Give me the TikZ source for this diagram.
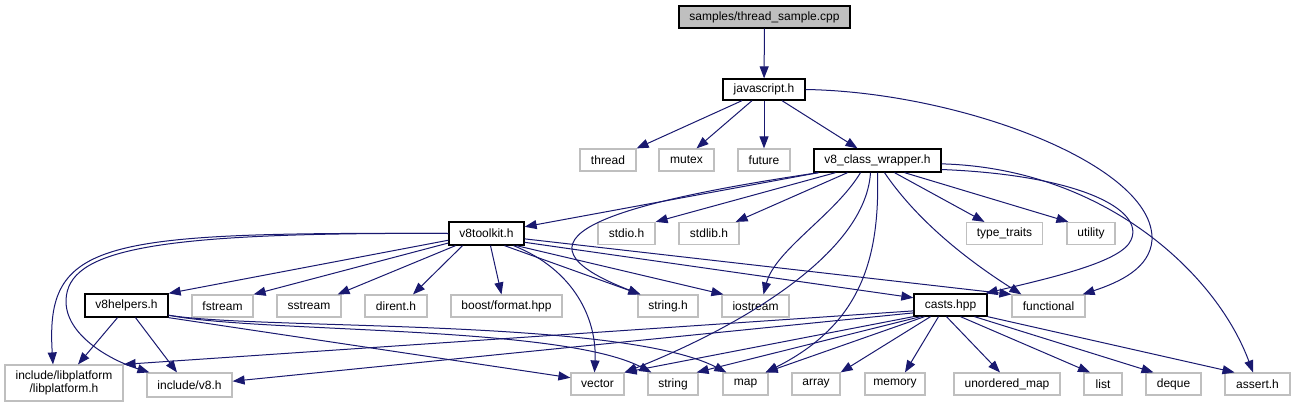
\documentclass[tikz,border=0pt]{standalone}
\usepackage{xcolor}
\usepackage{fontspec}
\setmainfont{Liberation Sans}
\usepackage{tikz}
\usetikzlibrary{arrows.meta}

\definecolor{edgeblue}{HTML}{191970}
\definecolor{extgray}{HTML}{BFBFBF}

\begin{document}
\begin{tikzpicture}[
      x=1pt, y=-1pt, % pixel grid of the include graph
      every node/.style={font=\fontsize{12}{13}\selectfont, inner sep=0pt,
        minimum height=22pt},
      incl/.style={rectangle, draw=black, line width=1.3pt, fill=white},
      ext/.style={rectangle, draw=extgray, line width=1.2pt, fill=white},
      rootfile/.style={incl, fill=extgray},
      dep/.style={->, draw=edgeblue, line width=1pt},
      >={Triangle[length=12pt, width=9pt, fill=edgeblue]},
  ]
      \path[use as bounding box, fill=white] (0,0) rectangle (1295,407);

      % --- NIVEL 0 E 1 ---
      \node[rootfile, minimum width=171pt] (sample) at (764.5,17) {samples/thread\_sample.cpp};
      \node[incl, minimum width=82pt, minimum height=21pt] (javascript) at (764,89.5) {javascript.h};

      % --- NIVEL 2 ---
      \node[ext, minimum width=56pt] (thread) at (608,160) {thread};
      \node[ext, minimum width=55pt] (mutex) at (686.5,160) {mutex};
      \node[ext, minimum width=52pt] (future) at (764,160) {future};
      \node[incl, minimum width=127pt, minimum height=23pt] (classwrapper) at (877.5,160.5) {v8\_class\_wrapper.h};

      % --- NIVEL 3 ---
      \node[incl, minimum width=75pt, minimum height=23pt] (toolkit) at (486.5,233.5) {v8toolkit.h};
      \node[ext, minimum width=57pt] (stdio) at (626.5,233.5) {stdio.h};
      \node[ext, minimum width=60pt] (stdlib) at (709,233.5) {stdlib.h};
      \node[ext, minimum width=76pt] (typetraits) at (1004.5,233.5) {type\_traits};
      \node[ext, minimum width=48pt] (utility) at (1091,233.5) {utility};

      % --- NIVEL 4 ---
      \node[incl, minimum width=83pt, minimum height=23pt] (helpers) at (126.5,305.5) {v8helpers.h};
      \node[ext, minimum width=61pt] (fstream) at (222.5,306) {fstream};
      \node[ext, minimum width=64pt] (sstream) at (309,306) {sstream};
      \node[ext, minimum width=62pt] (dirent) at (396,306) {dirent.h};
      \node[ext, minimum width=111pt] (boostfmt) at (506.5,306) {boost/format.hpp};
      \node[ext, minimum width=60pt] (stringh) at (668,306) {string.h};
      \node[ext, minimum width=67pt] (iostream) at (755.5,306) {iostream};
      \node[incl, minimum width=73pt] (casts) at (950.5,305) {casts.hpp};
      \node[ext, minimum width=73pt] (functional) at (1048.5,306) {functional};

      % --- NIVEL 5 ---
      \node[ext, minimum width=118pt, minimum height=36pt, align=center] (libplatform) at (64,383) {include/libplatform\\/libplatform.h};
      \node[ext, minimum width=85pt, minimum height=24pt] (v8h) at (189.5,385) {include/v8.h};
      \node[ext, minimum width=53pt] (vector) at (597.5,384) {vector};
      \node[ext, minimum width=50pt] (string) at (673,384) {string};
      \node[ext, minimum width=45pt] (map) at (745.5,384) {map};
      \node[ext, minimum width=48pt] (array) at (816,384) {array};
      \node[ext, minimum width=60pt] (memory) at (895,384) {memory};
      \node[ext, minimum width=106pt] (unorderedmap) at (1007,384) {unordered\_map};
      \node[ext, minimum width=38pt] (list) at (1103,384) {list};
      \node[ext, minimum width=55pt] (deque) at (1173.5,384) {deque};
      \node[ext, minimum width=65pt] (assert) at (1257.5,384) {assert.h};

      % --- samples/thread_sample.cpp e javascript.h ---
      \draw[dep] (sample) -- (javascript);
      \draw[dep] ([xshift=-22pt]javascript.south) -- (thread.north east);
      \draw[dep] ([xshift=-12pt]javascript.south) -- ([xshift=10pt]mutex.north);
      \draw[dep] (javascript) -- (future);
      \draw[dep] ([xshift=18pt]javascript.south) -- ([xshift=-20pt]classwrapper.north);
      \draw[dep] (javascript.east) .. controls (960,92) and (1155,165) .. (1152,240)
          .. controls (1150,268) and (1120,282) .. ([xshift=-3pt]functional.north east);

      % --- v8_class_wrapper.h ---
      \draw[dep] ([xshift=-59pt]classwrapper.south) -- (toolkit.10);
      \draw[dep] ([xshift=-59pt]classwrapper.south) .. controls (600,205) and (500,240) .. ([xshift=3pt]stringh.north west);
      \draw[dep] ([xshift=-42pt]classwrapper.south) -- (stdio.north east);
      \draw[dep] ([xshift=-30pt]classwrapper.south) -- ([xshift=-4pt]stdlib.north east);
      \draw[dep] ([xshift=-17pt]classwrapper.south) .. controls (835,215) and (775,250) .. ([xshift=8pt]iostream.north);
      \draw[dep] ([xshift=-7pt]classwrapper.south) .. controls (865,260) and (720,335) .. (vector.north east);
      \draw[dep] (classwrapper.south) .. controls (880,260) and (860,325) .. ([xshift=-3pt]map.north east);
      \draw[dep] ([xshift=7pt]classwrapper.south) .. controls (920,225) and (975,265) .. ([xshift=10pt]functional.north west);
      \draw[dep] ([xshift=17pt]classwrapper.south) -- ([xshift=-20pt]typetraits.north);
      \draw[dep] ([xshift=27pt]classwrapper.south) -- ([xshift=2pt]utility.north west);
      \draw[dep] (classwrapper.-8) .. controls (1080,175) and (1145,210) .. (1131,240)
          .. controls (1122,262) and (1050,278) .. ([xshift=-2pt]casts.north east);
      \draw[dep] (classwrapper.-3) .. controls (1100,168) and (1215,270) .. ([xshift=-4.5pt]assert.north);

      % --- v8toolkit.h ---
      \draw[dep] (toolkit.190) -- (helpers.north east);
      \draw[dep] (toolkit.194) -- (fstream.north east);
      \draw[dep] ([xshift=-31pt]toolkit.south) -- ([xshift=-4pt]sstream.north east);
      \draw[dep] ([xshift=-24pt]toolkit.south) -- ([xshift=17pt]dirent.north);
      \draw[dep] ([xshift=4pt]toolkit.south) -- ([xshift=-5pt]boostfmt.north);
      \draw[dep] ([xshift=18pt]toolkit.south) -- ([xshift=3pt]stringh.north west);
      \draw[dep] ([xshift=30pt]toolkit.south) -- ([xshift=2pt]iostream.north west);
      \draw[dep] ([xshift=27pt]toolkit.south) .. controls (575,270) and (597,320) .. ([xshift=-3pt]vector.north);
      \draw[dep] (toolkit.-13) -- (casts.169);
      \draw[dep] (toolkit.-8) -- (functional.north west);
      \draw[dep] (toolkit.west) .. controls (100,232) and (45,240) .. ([xshift=-11pt]libplatform.north);
      \draw[dep] (toolkit.west) .. controls (150,232) and (68,250) .. (66,300)
          .. controls (65,335) and (110,360) .. ([xshift=3pt]v8h.north west);

      % --- v8helpers.h ---
      \draw[dep] ([xshift=-9pt]helpers.south) -- ([xshift=14pt]libplatform.north);
      \draw[dep] ([xshift=9pt]helpers.south) -- ([xshift=-12.5pt]v8h.north);
      \draw[dep] (helpers.south east) -- (vector.167);
      \draw[dep] (helpers.-13) .. controls (260,333) and (560,325) .. ([xshift=4pt]string.north west);
      \draw[dep] (helpers.-13) .. controls (260,330) and (620,318) .. ([xshift=4pt]map.north west);

      % --- casts.hpp ---
      \draw[dep] (casts.189) -- (libplatform.north east);
      \draw[dep] (casts.192) -- (v8h.5);
      \draw[dep] (casts.south west) -- (vector.north east);
      \draw[dep] ([xshift=-30pt]casts.south) -- ([xshift=-2pt]string.north east);
      \draw[dep] ([xshift=-26pt]casts.south) -- ([xshift=-3pt]map.north east);
      \draw[dep] ([xshift=-20pt]casts.south) -- (array.north east);
      \draw[dep] ([xshift=-12pt]casts.south) -- ([xshift=10pt]memory.north);
      \draw[dep] ([xshift=-4pt]casts.south) -- ([xshift=-7pt]unorderedmap.north);
      \draw[dep] ([xshift=10pt]casts.south) -- ([xshift=-13pt]list.north);
      \draw[dep] ([xshift=24pt]casts.south) -- ([xshift=-20pt]deque.north);
      \draw[dep] (casts.south east) -- ([xshift=-23pt]assert.north);

  \end{tikzpicture}
\end{document}
